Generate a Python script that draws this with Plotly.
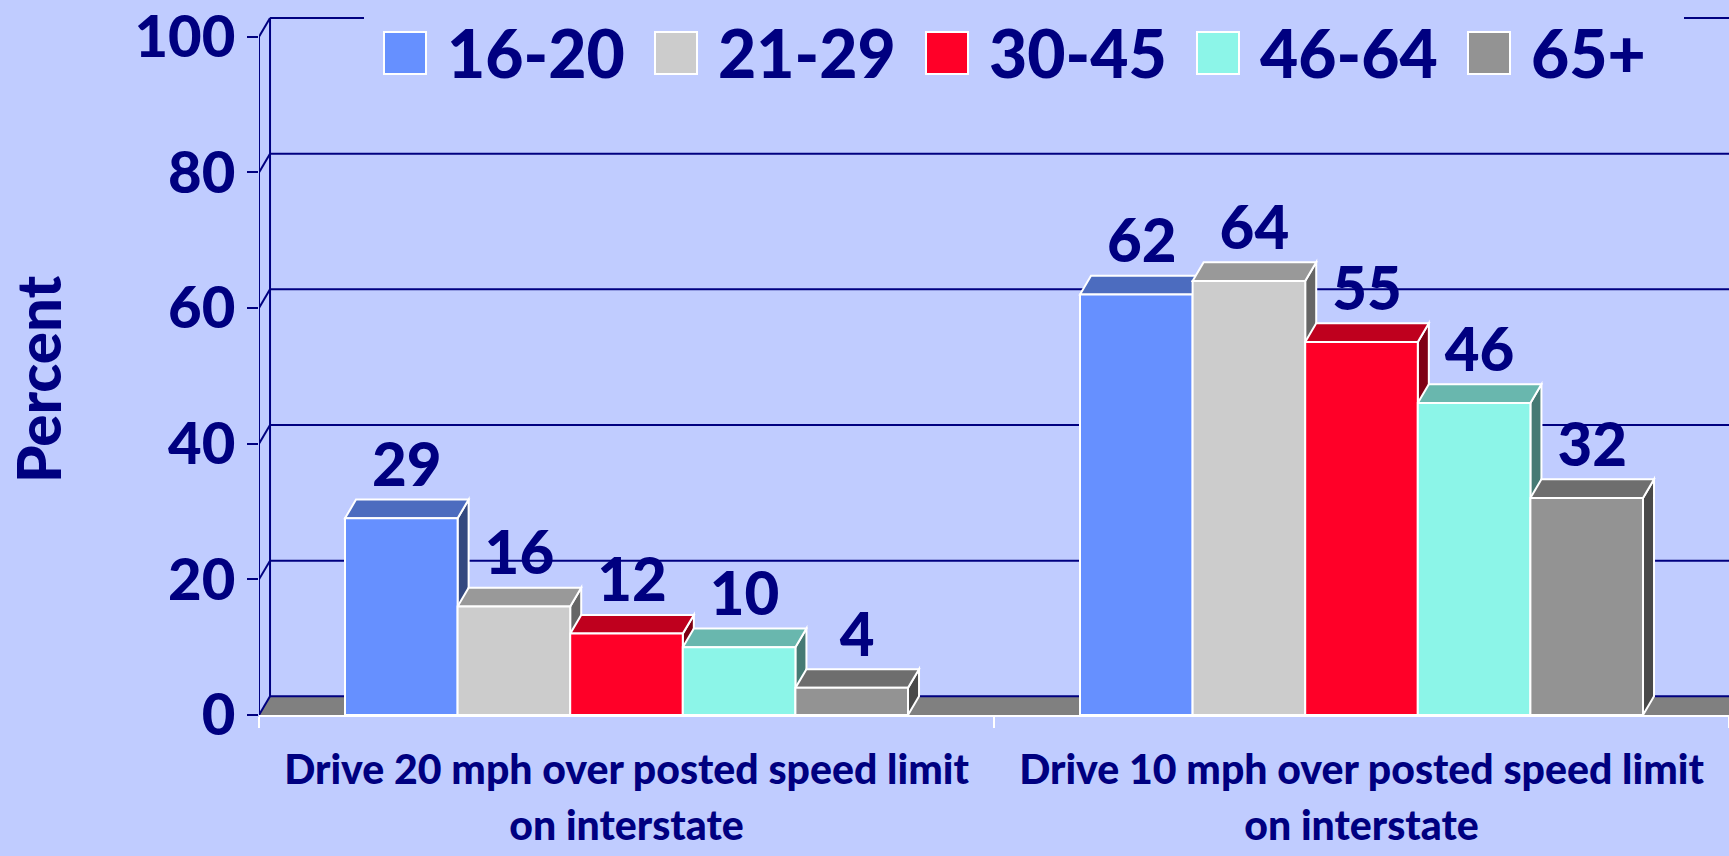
import plotly.graph_objects as go

# ---------------- data ----------------
categories = ["Drive 20 mph over posted speed limit", "Drive 10 mph over posted speed limit"]
category_line2 = ["on interstate", "on interstate"]
age_groups = ["16-20", "21-29", "30-45", "46-64", "65+"]
pct_16_20 = [29, 62]
pct_21_29 = [16, 64]
pct_30_45 = [12, 55]
pct_46_64 = [10, 46]
pct_65_plus = [4, 32]
y_tick_values = [0, 20, 40, 60, 80, 100]
y_tick_labels = ["0", "20", "40", "60", "80", "100"]
y_title = "Percent"

series_values = [pct_16_20, pct_21_29, pct_30_45, pct_46_64, pct_65_plus]

# ---------------- style ----------------
FRONT_COLORS = ["#6690FF", "#CCCCCC", "#FF0028", "#8CF5E8", "#939393"]
BG = "#C0CCFF"
NAVY = "#000080"
FLOOR = "#808080"
FONT = "Lato"
WEIGHT = 900

W, H = 1729, 856
M_L, M_R, M_T, M_B = 259, 0, 15, 141
PLOT_W = W - M_L - M_R
PLOT_H = H - M_T - M_B
PX_PER_UNIT = 6.782
Y_MAX = PLOT_H / PX_PER_UNIT
BARGAP = 0.234
DX = 0.015          # depth shift (category units)
DY = 2.76           # depth shift (value units)
LABEL_RISE = 4.2
N = len(age_groups)
BW = (1 - BARGAP) / N


def shade(hexc, f):
    r, g, b = int(hexc[1:3], 16), int(hexc[3:5], 16), int(hexc[5:7], 16)
    return f"rgb({int(r * f)},{int(g * f)},{int(b * f)})"


def px_x(px):
    return (px - M_L) / PLOT_W


def px_y(py):
    return (H - M_B - py) / PLOT_H


xs = list(range(len(categories)))
fig = go.Figure()

shapes = []
# floor
shapes.append(dict(type="path", xref="x", yref="y", layer="below",
                   path=f"M -0.5,0 L {-0.5 + DX},{DY} L {1.5 + DX},{DY} L 1.5,0 Z",
                   fillcolor=FLOOR, line=dict(width=0)))
# back wall gridlines + diagonals
for v in y_tick_values:
    shapes.append(dict(type="line", xref="x", yref="y", layer="below",
                       x0=-0.5 + DX, x1=1.5 + DX, y0=v + DY, y1=v + DY,
                       line=dict(color=NAVY, width=2)))
    shapes.append(dict(type="line", xref="x", yref="y", layer="below",
                       x0=-0.5, x1=-0.5 + DX, y0=v, y1=v + DY,
                       line=dict(color=NAVY, width=2)))
shapes.append(dict(type="line", xref="x", yref="y", layer="below",
                   x0=-0.5 + DX, x1=-0.5 + DX, y0=DY, y1=y_tick_values[-1] + DY,
                   line=dict(color=NAVY, width=2)))
shapes.append(dict(type="line", xref="x", yref="y", layer="below",
                   x0=-0.5, x1=-0.5, y0=0, y1=y_tick_values[-1],
                   line=dict(color=NAVY, width=2)))

# 3D faces (top + side) of every bar, computed from the values
for i, vals in enumerate(series_values):
    col = FRONT_COLORS[i]
    for j, v in zip(xs, vals):
        left = j - (1 - BARGAP) / 2 + i * BW
        right = left + BW
        shapes.append(dict(type="path", xref="x", yref="y", layer="below",
                           path=f"M {right},0 L {right},{v} L {right + DX},{v + DY} L {right + DX},{DY} Z",
                           fillcolor=shade(col, 0.5), line=dict(color="white", width=2)))
        shapes.append(dict(type="path", xref="x", yref="y", layer="below",
                           path=f"M {left},{v} L {left + DX},{v + DY} L {right + DX},{v + DY} L {right},{v} Z",
                           fillcolor=shade(col, 0.75), line=dict(color="white", width=2)))

# front faces
for i, (name, vals) in enumerate(zip(age_groups, series_values)):
    fig.add_trace(go.Bar(x=xs, y=vals, name=name,
                         marker=dict(color=FRONT_COLORS[i], line=dict(color="white", width=2)),
                         showlegend=False, hoverinfo="skip"))

# value labels
for i, vals in enumerate(series_values):
    lx = [j - (1 - BARGAP) / 2 + (i + 0.5) * BW + DX / 2 for j in xs]
    ly = [v + DY + LABEL_RISE for v in vals]
    fig.add_trace(go.Scatter(x=lx, y=ly, mode="text", text=[str(v) for v in vals],
                             textposition="middle center",
                             textfont=dict(family=FONT, size=60, color=NAVY, weight=WEIGHT),
                             showlegend=False, hoverinfo="skip", cliponaxis=False))

# custom legend
LEG_X0, LEG_STEP, SW, LEG_TOP, TXT_OFF = 384, 271, 42, 32, 61
shapes.append(dict(type="rect", xref="paper", yref="paper", layer="above",
                   x0=px_x(364), x1=px_x(1684), y0=px_y(86), y1=px_y(0),
                   fillcolor=BG, line=dict(width=0)))
annotations = []
for i, name in enumerate(age_groups):
    x0 = LEG_X0 + i * LEG_STEP
    shapes.append(dict(type="rect", xref="paper", yref="paper", layer="above",
                       x0=px_x(x0), x1=px_x(x0 + SW), y0=px_y(LEG_TOP + SW), y1=px_y(LEG_TOP),
                       fillcolor=FRONT_COLORS[i], line=dict(color="white", width=2)))
    annotations.append(dict(xref="paper", yref="paper", x=px_x(x0 + TXT_OFF), y=px_y(LEG_TOP + SW / 2),
                            xanchor="left", yanchor="middle", text=name, showarrow=False,
                            font=dict(family=FONT, size=66, color=NAVY, weight=WEIGHT)))

annotations.append(dict(xref="paper", yref="paper", x=px_x(38), y=px_y(379),
                        xanchor="center", yanchor="middle", text=y_title, textangle=-90,
                        showarrow=False, font=dict(family=FONT, size=60, color=NAVY, weight=WEIGHT)))

tick_text = [f"<span style='font-size:41px'>{a}</span><br><span style='font-size:41px'>{b}</span>"
             for a, b in zip(categories, category_line2)]

fig.update_layout(
    width=W, height=H, autosize=False,
    margin=dict(l=M_L, r=M_R, t=M_T, b=M_B, pad=0),
    paper_bgcolor=BG, plot_bgcolor=BG,
    barmode="group", bargap=BARGAP, bargroupgap=0,
    showlegend=False,
    shapes=shapes, annotations=annotations,
    xaxis=dict(range=[-0.5, 1.5], tickmode="array", tickvals=xs, ticktext=tick_text,
               ticks="", showgrid=False, zeroline=False, automargin=False,
               ticklabeloverflow="allow",
               showline=True, linecolor="white", linewidth=2,
               tickfont=dict(family=FONT, size=43, color=NAVY, weight=WEIGHT),
               ticklabelstandoff=15,
               minor=dict(tickmode="array", tickvals=[-0.5, 0.5, 1.5], ticks="outside",
                          ticklen=11, tickwidth=2, tickcolor="white", showgrid=False)),
    yaxis=dict(range=[0, Y_MAX], tickmode="array", tickvals=y_tick_values, ticktext=y_tick_labels,
               ticks="outside", ticklen=11, tickwidth=2, tickcolor=NAVY,
               showgrid=False, zeroline=False, showline=False, automargin=False,
               ticklabeloverflow="allow",
               tickfont=dict(family=FONT, size=58, color=NAVY, weight=WEIGHT)),
)

fig.write_html("out.html", config={"displayModeBar": False},
               post_script="document.body.style.margin='0';document.body.style.overflow='hidden';")
